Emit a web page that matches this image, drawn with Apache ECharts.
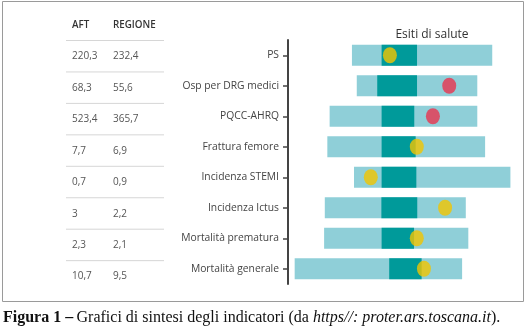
<!DOCTYPE html>
<html>
<head>
<meta charset="utf-8">
<script src="https://cdn.jsdelivr.net/npm/echarts@6/dist/echarts.min.js"></script>
<style>
  html, body { margin: 0; padding: 0; background: #fff; }
  #chart { width: 528px; height: 336px; }
</style>
</head>
<body>
<div id="chart"></div>
<script>
// Indicator names (top to bottom)
const indicators = ['PS', 'Osp per DRG medici', 'PQCC-AHRQ', 'Frattura femore',
  'Incidenza STEMI', 'Incidenza Ictus', 'Mortalità prematura', 'Mortalità generale'];

// Table values: area (AFT) and region
const aftValues = ['220,3', '68,3', '523,4', '7,7', '0,7', '3', '2,3', '10,7'];
const regioneValues = ['232,4', '55,6', '365,7', '6,9', '0,9', '2,2', '2,1', '9,5'];

// Positions on a normalized 0–100 scale
const rangeLow  = [27.8, 29.9, 18.1, 17.1, 28.7, 16.0, 15.7, 2.9];
const rangeHigh = [88.8, 82.3, 82.3, 85.7, 96.7, 77.3, 78.4, 75.7];
const midLow    = [40.7, 38.8, 40.7, 40.7, 40.7, 40.6, 40.7, 44.0];
const midHigh   = [56.1, 56.1, 54.9, 55.5, 55.8, 56.2, 54.8, 58.1];
const areaPoint = [44.3, 70.1, 63.0, 56.0, 36.0, 68.3, 56.0, 59.1];
// 0 = in line / favourable (yellow), 1 = critical (red)
const pointFlag = [0, 1, 1, 0, 0, 0, 0, 0];

const pointColors = ['#f1c400', '#e8334f'];

function rangeItem(color) {
  return function (params, api) {
    const y = api.value(0);
    const p0 = api.coord([api.value(1), y]);
    const p1 = api.coord([api.value(2), y]);
    const h = 21;
    return {
      type: 'rect',
      shape: { x: p0[0], y: p0[1] - h / 2, width: p1[0] - p0[0], height: h },
      style: { fill: color }
    };
  };
}

const chart = echarts.init(document.getElementById('chart'), null, { renderer: 'canvas' });

// Table rows
const tableGraphics = [];
const tableTop = 40.5, rowH = 31.45;
tableGraphics.push(
  { type: 'text', left: 72, top: 20, style: { text: 'AFT', font: '600 9.8px "Open Sans"', fill: '#333' } },
  { type: 'text', left: 113, top: 20, style: { text: 'REGIONE', font: '600 9.8px "Open Sans"', fill: '#333' } }
);
for (let i = 0; i < aftValues.length; i++) {
  const yLine = tableTop + i * rowH;
  tableGraphics.push({
    type: 'line', shape: { x1: 66, y1: yLine, x2: 164, y2: yLine },
    style: { stroke: '#d6d6d6', lineWidth: 1 }
  });
  const yText = yLine + 16;
  tableGraphics.push(
    { type: 'text', x: 72, y: yText, style: { text: aftValues[i], font: '10px "Open Sans"', fill: '#555', verticalAlign: 'middle' } },
    { type: 'text', x: 113, y: yText, style: { text: regioneValues[i], font: '10px "Open Sans"', fill: '#555', verticalAlign: 'middle' } }
  );
}

const option = {
  animation: false,
  backgroundColor: '#fff',
  title: {
    text: 'Esiti di salute',
    left: 427, top: 24, textAlign: 'center',
    textStyle: { fontFamily: 'Open Sans', fontSize: 12, fontWeight: 'normal', color: '#333' }
  },
  grid: { left: 288, right: 10, top: 40, bottom: 52, containLabel: false },
  xAxis: {
    type: 'value', min: 0, max: 100, show: false
  },
  yAxis: {
    type: 'category',
    data: indicators,
    inverse: true,
    axisLine: { show: true, lineStyle: { color: '#444', width: 2 } },
    axisTick: { show: true, length: 5, alignWithLabel: true, lineStyle: { color: '#444', width: 1.5 } },
    axisLabel: { fontFamily: 'Open Sans', fontSize: 10.3, color: '#444', margin: 9 },
    splitLine: { show: false }
  },
  series: [
    {
      type: 'custom',
      renderItem: rangeItem('#8fcfd8'),
      encode: { x: [1, 2], y: 0 },
      data: indicators.map((c, i) => [i, rangeLow[i], rangeHigh[i]]),
      z: 1
    },
    {
      type: 'custom',
      renderItem: rangeItem('#009a9a'),
      encode: { x: [1, 2], y: 0 },
      data: indicators.map((c, i) => [i, midLow[i], midHigh[i]]),
      z: 2
    },
    {
      type: 'scatter',
      symbol: 'circle',
      symbolSize: [14, 16],
      data: indicators.map((c, i) => ({
        value: [areaPoint[i], i],
        itemStyle: { color: pointColors[pointFlag[i]] }
      })),
      z: 3
    }
  ],
  graphic: [
    {
      type: 'rect', shape: { x: 2.5, y: 1.5, width: 521, height: 300 },
      style: { fill: 'none', stroke: '#9a9a9a', lineWidth: 1 }, z: -1
    },
    ...tableGraphics,
    {
      type: 'text', left: 3, top: 310,
      style: {
        text: '{b|Figura 1 –} {r|Grafici di sintesi degli indicatori (da }{i|https//: proter.ars.toscana.it}{r|).}',
        rich: {
          b: { font: 'bold 16px "Liberation Serif"', fill: '#111' },
          r: { font: '16px "Liberation Serif"', fill: '#111' },
          i: { font: 'italic 16px "Liberation Serif"', fill: '#111' }
        }
      }
    }
  ]
};

chart.setOption(option);
</script>
</body>
</html>
